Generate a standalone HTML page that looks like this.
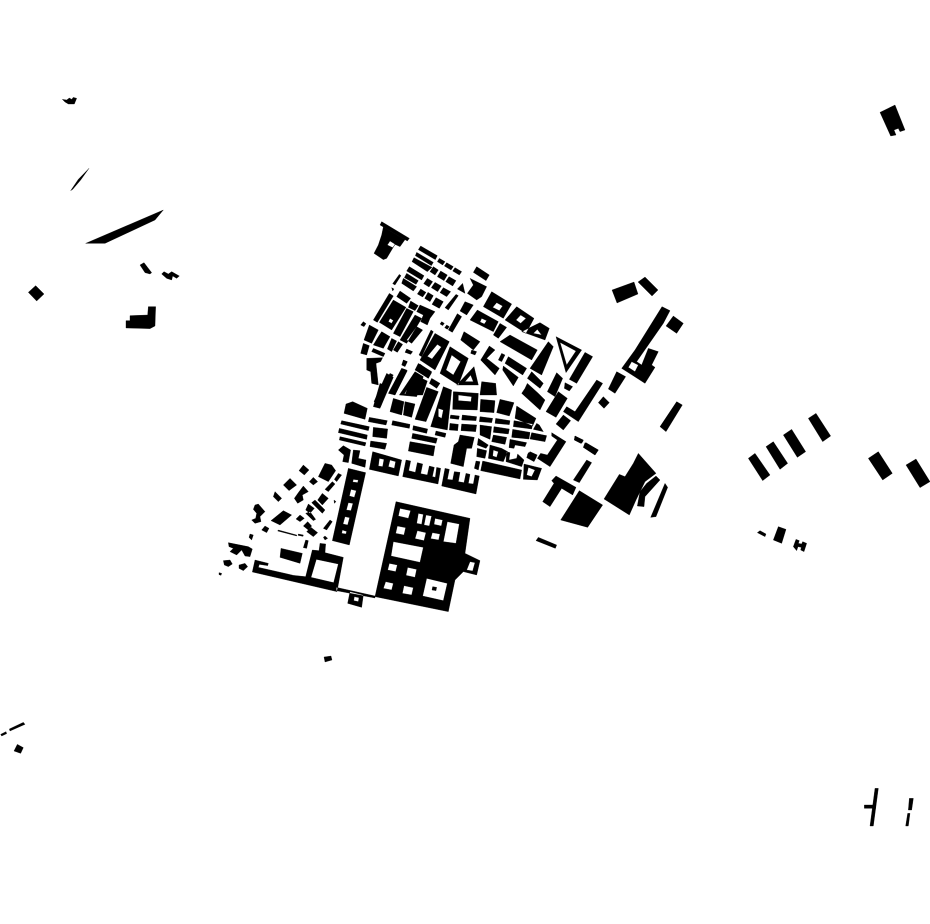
<!DOCTYPE html>
<html>
<head>
<meta charset="utf-8">
<style>
html,body{margin:0;padding:0;background:#fff;width:930px;height:924px;overflow:hidden}
svg{display:block}
path{fill:#000;fill-rule:evenodd;stroke:#000;stroke-width:1;stroke-linejoin:round}
</style>
</head>
<body>
<svg width="930" height="924" viewBox="0 0 930 924" xmlns="http://www.w3.org/2000/svg">
<rect width="930" height="924" fill="#fff"/>
<g transform="translate(350 215) scale(.33333)"><path d="M95 20L178 70L172 78L90 30Z"/><path d="M100 36L165 74L150 95L135 88L110 130L100 134L72 115L85 90L95 60ZM120 78L136 88L128 98L112 90Z"/><path d="M212 93L262 122L256 134L205 104Z
M200 112L250 142L244 152L196 122Z
M192 128L246 157L232 170L186 140Z
M178 155L222 182L215 195L170 168Z
M170 175L205 197L198 208L163 188Z
M160 190L200 215L190 228L155 205Z
M268 130L285 140L278 150L262 140Z
M290 143L310 155L303 165L283 153Z
M315 158L335 170L328 180L308 168Z
M250 155L265 165L255 180L240 170Z
M272 168L292 180L282 197L262 185Z
M297 185L318 197L308 213L287 200Z
M232 190L248 200L237 216L221 206Z
M255 202L274 213L263 230L244 218Z
M280 218L302 230L290 245L270 233Z
M212 222L228 232L218 246L202 237Z
M234 232L250 242L240 260L224 250Z
M258 248L280 260L268 280L246 268Z
M318 238L325 242L295 285L285 278Z
M338 205L345 235L322 222Z
M380 155L418 180L408 197L370 172Z
M360 190L410 215L395 245L380 255L352 235L370 210Z
M345 260L370 270L350 300L330 288Z
M322 296L335 305L307 352L295 345Z
M275 320L283 325L278 332L270 327Z
M290 330L298 335L292 343L284 338Z
M148 178L153 182L135 210L128 206Z
M125 218L132 222L128 228Z
M118 235L130 243L82 322L70 315Z
M150 228L182 250L170 265L140 245Z
M130 255L168 277L125 345L88 322ZM120 310L130 316L125 325L115 320Z
M182 258L205 272L195 287L175 277Z
M210 270L255 290L240 310L200 290Z
M170 280L190 290L150 365L130 355Z
M195 300L215 310L170 385L150 375Z
M220 300L240 310L232 330L212 320Z
M200 335L218 345L185 385L170 375Z
M40 320L48 326L42 335L32 330Z
M58 330L85 345L65 385L42 375Z
M95 350L120 365L100 400L85 395L70 390L85 365Z
M125 370L140 378L125 410L112 402Z
M145 380L158 388L142 412L130 405Z
M40 385L58 392L50 420L32 415Z
M70 400L105 415L100 425L65 410Z
M170 402L188 410L182 418L165 412Z
M50 430L98 428L92 440L78 445L85 510L65 505L62 470L50 465Z
M243 345L250 350L215 425L207 420Z
M255 355L298 380L255 465L210 435ZM262 388L274 396L246 432L232 424Z
M300 395L355 430L325 510L270 475ZM305 420L332 440L310 480L288 465Z
M372 455L385 510L320 510ZM362 480L370 500L345 500Z
M160 435L172 440L165 455L155 450Z
M155 460L170 465L135 540L115 535Z
M120 475L130 480L100 530L90 525Z
M205 445L245 470L235 490L195 465Z
M190 478L232 498L218 540L165 540Z"/></g>

<g transform="translate(360 340) scale(.33333)"><path d="M130 60L142 65L135 78L128 75Z
M80 100L100 112L62 200L42 185Z
M125 85L142 92L105 165L88 158Z
M165 95L190 110L170 170L118 165ZM140 150L165 150L160 165L133 162Z
M180 72L215 98L205 115L170 90Z
M215 115L240 130L230 145L208 130Z"/></g>

<g transform="translate(450 290) scale(.33333)"><path d="M125 5L185 42L160 85L100 50ZM140 38L158 48L148 62L128 52Z
M82 60L145 95L130 125L60 90ZM95 85L110 92L103 102L90 96Z
M200 50L252 85L228 130L165 90ZM212 75L228 85L212 100L198 90Z
M270 98L298 115L285 150L215 125ZM262 118L275 135L250 130Z
M150 100L170 112L145 145L130 135Z
M180 135L262 180L245 210L150 155Z
M318 140L395 180L348 248ZM330 157L378 183L350 225Z
M295 155L310 170L275 255L240 235Z
M42 125L90 155L70 180L32 150Z
M65 180L80 185L75 195L62 190Z
M118 168L135 180L110 205L148 235L135 255L92 210Z
M155 190L165 195L155 215L145 210Z
M175 200L230 235L218 255L165 220Z
M160 228L205 262L190 288L158 240Z
M245 245L280 280L270 295L232 265Z
M232 280L265 310L285 330L270 360L215 310L225 295Z
M320 248L338 265L315 320L292 305Z
M345 278L368 290L358 303L343 295Z
M325 305L352 325L318 382L288 365Z
M405 187L428 200L380 280L358 268Z
M440 270L458 280L385 395L340 365L350 350L375 365Z
M340 375L362 392L340 420L318 402Z
M500 245L527 260L495 310L475 297Z
M460 320L478 338L462 355L445 338Z
M636 50L660 62L640 100L560 215L575 225L595 175L625 185L605 225L615 232L585 280L515 235L555 180Z
M545 215L565 225L555 245L535 232Z
M670 78L700 100L680 130L648 108Z
M680 335L697 345L648 425L630 410Z
M375 438L400 450L392 460L373 450Z
M408 458L445 480L435 495L400 472Z
M305 428L348 455L300 530L262 505L272 490L292 495L322 450L305 438Z
M240 485L262 495L255 505L232 495Z"/></g>

<g transform="translate(330 380) scale(.33333)"><path d="M150 10L175 20L150 85L130 80Z
M190 55L222 65L215 105L180 95Z
M225 65L255 72L245 112L220 105Z
M290 22L325 35L288 125L255 118Z
M340 20L365 30L352 150L302 140ZM325 85L340 90L335 115L325 110Z
M370 35L445 40L442 90L368 88ZM385 45L425 50L423 65L385 62Z
M452 58L495 62L492 98L450 95Z
M510 58L552 68L538 108L500 98Z
M455 5L497 10L500 45L450 45Z
M560 78L618 115L608 138L555 115Z
M362 105L388 108L386 118L360 115Z
M397 105L440 110L438 122L395 120Z
M450 110L488 115L485 128L448 125Z
M497 115L540 122L538 134L495 130Z
M552 122L608 132L605 147L550 140Z
M620 130L628 135L640 155L610 148Z
M360 130L385 133L383 152L358 150Z
M395 132L440 135L437 155L393 152Z
M450 135L485 140L480 178L450 165Z
M492 140L538 147L535 162L490 157Z
M548 148L600 157L597 177L545 172Z
M605 158L650 167L645 185L600 177Z
M490 165L530 172L525 193L485 185Z
M540 178L590 188L585 200L555 195L552 205L537 203Z
M390 165L433 172L425 205L410 205L400 260L362 250L372 195L385 185Z
M445 175L475 195L468 205L442 195Z
M442 205L470 212L465 235L440 230Z
M480 195L515 205L533 215L520 245L475 235ZM490 210L505 215L500 232L488 228Z
M530 215L540 218L537 240L560 235L563 222L582 240L575 260L528 245Z
M595 218L620 230L612 245L590 233Z
M582 252L635 265L622 300L580 298ZM595 262L615 270L605 290L590 285Z
M458 243L575 270L570 297L452 272Z
M438 243L450 245L445 270L433 265Z
M48 72L68 65L112 85L105 118L42 100Z
M118 112L172 122L168 135L115 125Z
M130 142L173 147L170 175L128 170Z
M122 183L170 190L165 208L120 200Z
M35 122L118 140L115 152L32 132Z
M28 145L112 165L110 178L25 158Z
M30 170L108 188L105 198L28 180Z
M188 122L240 133L238 145L185 135Z
M250 137L293 147L290 160L248 150Z
M318 153L348 160L345 172L315 165Z
M248 160L322 175L318 190L245 175Z
M240 185L315 198L310 228L235 213Z
M128 215L215 240L205 288L118 268ZM148 235L162 238L158 260L145 258ZM180 240L197 245L193 265L175 260Z
M228 240L242 243L236 272L256 277L262 248L278 252L272 281L292 285L298 258L313 262L307 290L316 292L320 262L332 265L324 312L218 290Z
M345 265L358 268L352 298L368 300L373 275L390 277L385 305L402 308L408 280L420 283L415 310L430 312L435 285L448 288L438 342L335 318Z
M25 210L40 197L62 210L55 248L38 245L42 225Z
M70 210L90 212L85 235L108 240L105 262L65 250Z"/></g>

<g transform="translate(215 450) scale(.33333)"><path d="M400 55L452 68L403 285L352 272ZM415 88L430 90L428 98L413 96ZM408 118L424 122L418 142L403 138ZM400 158L414 160L408 182L394 180ZM390 200L404 203L398 225L384 222ZM382 240L395 244L393 252L380 250Z
M120 330L160 340L158 347L133 343L130 352L218 372L235 376L272 380L292 300L312 302L315 280L332 282L330 308L385 322L366 425L112 366ZM304 328L370 342L356 398L288 382Z
M364 412L480 438L480 444L364 422Z
M405 425L445 435L440 472L398 460ZM418 440L432 443L430 455L416 452Z
M198 295L262 310L255 340L195 322Z
M265 45L282 60L268 75L252 62Z
M225 85L245 105L222 122L205 105Z
M180 125L200 145L190 155L175 140Z
M295 82L308 95L295 105L283 95Z
M330 40L350 45L362 62L340 95L310 80Z
M370 70L380 75L365 95L358 88Z
M352 95L360 102L340 125L330 118Z
M322 130L340 145L322 165L308 150Z
M265 108L280 125L262 135L265 150L248 160L238 145L250 128Z
M280 162L298 175L285 190L272 180Z
M300 150L330 180L322 190L290 158Z
M120 165L130 162L150 185L135 200L138 215L120 220L110 210L122 205L125 190L115 178Z
M205 182L230 195L195 225L168 212Z
M255 195L268 205L255 215L243 207Z
M285 185L302 208L295 212L272 190Z
M278 215L290 228L280 240L265 228Z
M288 232L308 248L295 260L275 245Z
M345 210L352 215L335 240L325 235Z
M190 240L245 255L245 258L188 243Z
M250 252L265 255L264 259L249 256Z
M150 228L162 235L155 248L140 240Z
M105 252L115 255L110 270L102 262Z
M272 270L280 272L275 295L265 293Z
M330 258L338 265L330 270L325 262Z
M357 150L363 155L358 160Z
M40 278L100 290L112 297L105 320L90 318L80 300L65 315L45 305L55 295L42 290Z
M25 332L45 330L52 342L40 350L28 345Z
M72 345L90 340L98 350L85 362L72 355Z
M12 368L20 370L18 376L12 374Z"/></g>

<g transform="translate(340 490) scale(.33333)"><path d="M168 35L390 85L375 190L420 212L410 255L370 245L345 270L325 365L105 320Z
M180 55L212 62L205 85L175 78Z
M235 70L250 73L245 103L230 100Z
M258 75L275 78L268 108L252 105Z
M285 85L308 90L304 108L282 103Z
M322 95L358 102L348 160L310 155Z
M172 108L197 113L192 135L167 130Z
M232 122L258 128L252 152L225 146Z
M277 128L300 132L296 150L272 146Z
M160 155L250 172L240 217L153 198Z
M148 220L172 225L167 245L143 240Z
M203 232L230 238L225 262L198 256Z
M137 275L160 280L155 300L130 295Z
M192 287L220 293L215 315L187 310Z
M260 265L322 280L310 332L248 318ZM278 290L290 292L288 302L276 300Z
M390 215L405 218L398 243L380 240Z"/></g>

<g transform="translate(530 430) scale(.33333)"><path d="M78 138L138 172L128 195L95 175L60 230L38 215L72 160L65 152Z
M135 18L160 32L155 40L133 30Z
M165 38L205 60L195 75L160 52Z
M170 90L185 98L148 158L130 150Z
M148 182L218 225L173 292L92 270Z
M325 70L378 130L345 155L318 210L298 255L222 207L268 133L285 140L310 100Z
M378 138L390 150L345 200L342 230L322 228L330 185L350 160Z
M405 160L413 172L378 260L362 262Z
M25 322L80 345L76 355L18 332Z"/></g>

<g transform="translate(20 90) scale(.33333)"><path d="M127 28L140 30L148 24L155 28L160 22L170 25L163 42L145 42L135 36Z
M207 235L175 268L152 302L158 298L182 270Z
M430 360L405 390L255 460L197 460Z
M360 525L372 518L385 535L395 548L390 552L375 548Z
M425 552L432 545L445 552L455 545L478 558L470 565L458 558L455 570L440 565Z
M25 607L47 587L72 612L50 633Z
M318 692L330 692L330 677L383 675L385 650L407 650L405 708L390 716L318 714Z"/></g>

<g transform="translate(740 400) scale(.33333)"><path d="M25 175L45 160L90 225L68 242Z
M78 140L100 125L143 190L120 208Z
M130 105L155 88L197 155L172 172Z
M205 55L228 40L272 108L248 125Z
M385 175L415 155L457 220L428 240Z
M498 195L528 177L570 245L540 263Z
M52 398L60 392L78 402L75 410Z
M100 420L115 380L138 388L125 430Z
M160 440L168 418L178 422L175 430L185 432L188 425L200 430L192 455L182 450L184 442L174 440L170 452Z"/></g>

<g transform="translate(855 780) scale(.33333)"><path d="M60 25L70 25L55 138L45 138Z"/><path d="M28 75L62 75L62 85L28 85Z"/><path d="M163 55L175 55L170 90L160 90Z
M158 100L165 100L160 138L152 138Z"/></g>

<g transform="translate(0 715) scale(.33333)"><path d="M28 42L70 22L75 28L30 48Z
M2 58L18 50L20 56L5 63Z
M52 88L70 98L62 115L42 108Z"/></g>

<g transform="translate(870 100) scale(.33333)"><path d="M30 37L75 15L105 90L90 95L85 85L72 90L78 105L62 108Z"/></g>

<path style="stroke-width:.3" d="M324 657L331 656L332 660L325 662Z
M612 290L634 282L638 294L617 303Z
M638 282L645 277L658 290L652 296Z"/>
</svg>
</body>
</html>
